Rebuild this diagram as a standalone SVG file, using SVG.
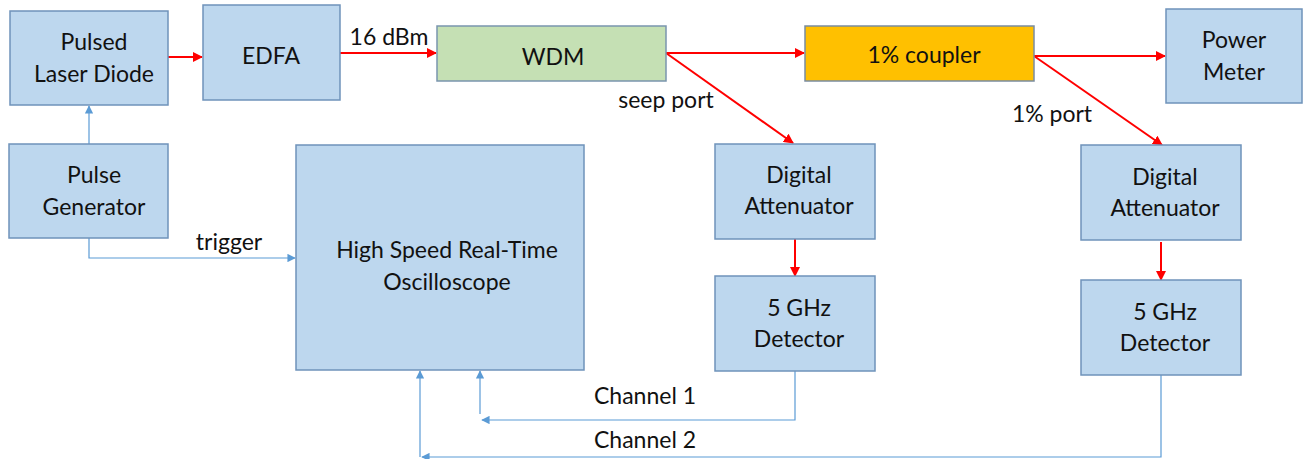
<svg xmlns="http://www.w3.org/2000/svg" width="1312" height="459" viewBox="0 0 1312 459">
<defs>
<style>
.box{fill:#BDD7EE;stroke:#6F93BA;stroke-width:1.5}
.wdm{fill:#C5E0B4;stroke:#7A95AE;stroke-width:1.5}
.cpl{fill:#FFC000;stroke:#7A8CA0;stroke-width:1.5}
text{font-family:Lato,"Open Sans","Liberation Sans",sans-serif;font-size:23px;fill:#111;text-anchor:middle}
.red{stroke:#FF0000;stroke-width:2;fill:none;marker-end:url(#ar)}
.blue{stroke:#5B9BD5;stroke-width:1.2;fill:none;marker-end:url(#ab)}
</style>
<marker id="ar" viewBox="0 0 10 10" refX="9" refY="5" markerWidth="5" markerHeight="5" orient="auto" markerUnits="strokeWidth"><path d="M0,0 L10,5 L0,10 z" fill="#FF0000"/></marker>
<marker id="ab" viewBox="0 0 10 10" refX="9" refY="5" markerWidth="7" markerHeight="7" orient="auto" markerUnits="strokeWidth"><path d="M0,0 L10,5 L0,10 z" fill="#5B9BD5"/></marker>
</defs>
<g id="connectors">
<line class="red" x1="168" y1="57" x2="202" y2="57"/>
<line class="red" x1="340" y1="53" x2="436" y2="53"/>
<line class="red" x1="666" y1="53" x2="804" y2="53"/>
<line class="red" x1="666" y1="53" x2="793" y2="143"/>
<line class="red" x1="1034" y1="56" x2="1165" y2="56"/>
<line class="red" x1="1034" y1="56" x2="1162" y2="145"/>
<line class="red" x1="795" y1="239" x2="795" y2="276"/>
<line class="red" x1="1161" y1="242" x2="1161" y2="280"/>
<line class="blue" x1="89" y1="144" x2="89" y2="106"/>
<polyline class="blue" points="89,238 89,258 295,258"/>
<polyline class="blue" points="795,371 795,420 482,420"/>
<line class="blue" x1="480" y1="414" x2="480" y2="371"/>
<polyline class="blue" points="1161,375 1161,457 422,457"/>
<line class="blue" x1="420" y1="457" x2="420" y2="371"/>
<text x="389" y="45">16 dBm</text>
<text x="666" y="108">seep port</text>
<text x="1052" y="122">1% port</text>
<text x="229" y="250">trigger</text>
<text x="645" y="404">Channel 1</text>
<text x="645" y="448">Channel 2</text>
</g>
<g id="laser"><rect class="box" x="10" y="11" width="158" height="94"/><text x="94" y="50">Pulsed</text><text x="94" y="82">Laser Diode</text></g>
<g id="edfa"><rect class="box" x="203" y="5" width="137" height="95"/><text x="271" y="64">EDFA</text></g>
<g id="wdm"><rect class="wdm" x="437" y="26" width="229" height="55"/><text x="553" y="65">WDM</text></g>
<g id="coupler"><rect class="cpl" x="805" y="26" width="229" height="55"/><text x="924" y="63">1% coupler</text></g>
<g id="powermeter"><rect class="box" x="1166" y="9" width="136" height="94"/><text x="1234" y="48">Power</text><text x="1234" y="80">Meter</text></g>
<g id="pulsegen"><rect class="box" x="9" y="144" width="159" height="94"/><text x="94" y="183">Pulse</text><text x="94" y="215">Generator</text></g>
<g id="scope"><rect class="box" x="296" y="145" width="288" height="225"/><text x="447" y="258">High Speed Real-Time</text><text x="447" y="290">Oscilloscope</text></g>
<g id="att1"><rect class="box" x="715" y="144" width="160" height="95"/><text x="799" y="183">Digital</text><text x="799" y="214">Attenuator</text></g>
<g id="det1"><rect class="box" x="715" y="276" width="160" height="95"/><text x="799" y="316">5 GHz</text><text x="799" y="347">Detector</text></g>
<g id="att2"><rect class="box" x="1081" y="145" width="160" height="95"/><text x="1165" y="185">Digital</text><text x="1165" y="216">Attenuator</text></g>
<g id="det2"><rect class="box" x="1081" y="280" width="160" height="95"/><text x="1165" y="320">5 GHz</text><text x="1165" y="351">Detector</text></g>
</svg>
